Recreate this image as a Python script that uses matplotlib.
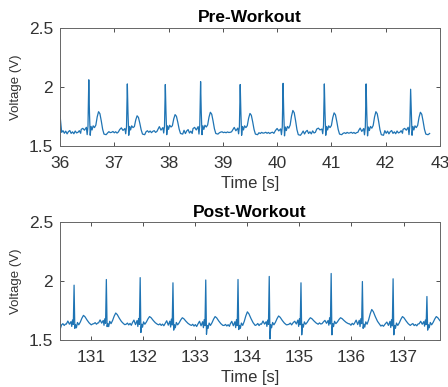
import numpy as np
import matplotlib
matplotlib.use("Agg")
from matplotlib import pyplot as plt

plt.rcParams['font.family'] = ['Liberation Sans', 'DejaVu Sans']

# ---- pre-workout (36-43 s) ----
pre_r_times = [36.53, 37.24, 37.94, 38.59, 39.32, 40.11, 40.87, 41.64, 42.46]
pre_r_peaks = [2.06, 2.025, 2.02, 2.045, 2.02, 2.03, 2.025, 2.025, 1.98]
pre_t_peaks = [1.79, 1.755, 1.765, 1.785, 1.775, 1.80, 1.78, 1.79, 1.785]
pre_base = [1.615, 1.615, 1.62, 1.62, 1.615, 1.61, 1.615, 1.61, 1.615]
pre_noise = [1.0, 0.5, 0.6, 1.2, 0.3, 0.4, 1.1, 0.4, 1.0]
pre_start = (36.0, 1.76)
pre_end = (42.81, 1.605)

# beat shape: offsets from R (s), rise above baseline (V), share of T height
pre_before_dt = [-0.14, -0.11, -0.08, -0.045, -0.03, -0.015]
pre_before_dv = [0.02, 0.04, 0.015, 0.035, -0.015, 0.05]
pre_after_dt = [0.012, 0.026, 0.042, 0.06, 0.08, 0.105, 0.13, 0.155, 0.18, 0.205, 0.23, 0.255, 0.28, 0.32]
pre_after_dv = [0.17, -0.025, 0.05, 0.02, 0.055, 0.04, 0.0, 0.0, 0.0, 0.0, 0.0, 0.0, -0.015, -0.02]
pre_after_tf = [0, 0, 0, 0, 0, 0, 0.35, 0.75, 1.0, 0.9, 0.55, 0.15, 0, 0]

# ---- post-workout (130.4-137.7 s) ----
post_r_times = [130.67, 131.29, 131.94, 132.57, 133.20, 133.82, 134.42, 135.03, 135.61, 136.21, 136.80, 137.45]
post_r_peaks = [1.966, 2.014, 2.03, 1.986, 2.01, 2.014, 2.04, 1.986, 2.065, 1.997, 2.02, 1.87]
post_s_dips = [1.60, 1.615, 1.565, 1.585, 1.55, 1.59, 1.51, 1.545, 1.545, 1.60, 1.545, 1.585]
post_t_peaks = [1.71, 1.73, 1.70, 1.69, 1.70, 1.74, 1.705, 1.69, 1.69, 1.76, 1.70, 1.70]
post_base = [1.63, 1.64, 1.635, 1.63, 1.625, 1.625, 1.63, 1.635, 1.64, 1.635, 1.625, 1.63]
post_noise = [0.7, 0.6, 0.7, 0.6, 0.7, 0.6, 0.8, 0.7, 0.6, 0.7, 0.6, 0.7]
post_start = (130.40, 1.59)
post_end = (137.72, 1.67)

post_before_dt = [-0.15, -0.12, -0.09, -0.06, -0.045, -0.03, -0.015]
post_before_dv = [0.01, 0.03, 0.0, 0.03, -0.015, 0.045, 0.0]
post_after_dt = [0.03, 0.045, 0.065, 0.09, 0.12, 0.15, 0.18, 0.21, 0.25, 0.29, 0.33]
post_after_dv = [0.0, -0.025, 0.02, 0.0, 0.0, 0.0, 0.0, 0.0, 0.0, 0.0, 0.0]
post_after_tf = [0, 0, 0, 0, 0.3, 0.7, 1.0, 0.85, 0.5, 0.2, 0.0]

# hand-drawn baseline wiggle
zig = [0.0, 0.014, -0.008, 0.010, -0.013, 0.006, 0.015, -0.009, 0.004, -0.012, 0.011, -0.005]


def build(start, end, r_times, r_peaks, t_peaks, base, noise,
          b_dt, b_dv, a_dt, a_dv, a_tf, s_dips=None):
    ts, vs = [start[0]], [start[1]]
    t_prev = start[0] + 0.03
    k = 0
    for i, tr in enumerate(r_times):
        # baseline stretch up to the beat
        t = t_prev
        while t < tr + b_dt[0] - 0.01:
            ts.append(t)
            vs.append(base[i] + noise[i] * zig[k % len(zig)])
            t += 0.025
            k += 1
        for dt, dv in zip(b_dt, b_dv):
            ts.append(tr + dt)
            vs.append(base[i] + dv + 0.5 * noise[i] * zig[k % len(zig)])
            k += 1
        ts.append(tr)
        vs.append(r_peaks[i])
        if s_dips is not None:
            ts.append(tr + 0.014)
            vs.append(s_dips[i])
        for dt, dv, tf in zip(a_dt, a_dv, a_tf):
            ts.append(tr + dt)
            vs.append(base[i] + dv + tf * (t_peaks[i] - base[i]))
        t_prev = tr + a_dt[-1] + 0.025
    t = t_prev
    while t < end[0]:
        ts.append(t)
        vs.append(base[-1] + noise[-1] * zig[k % len(zig)])
        t += 0.025
        k += 1
    ts.append(end[0])
    vs.append(end[1])
    return np.array(ts), np.array(vs)


pre_t, pre_v = build(pre_start, pre_end, pre_r_times, pre_r_peaks, pre_t_peaks,
                     pre_base, pre_noise, pre_before_dt, pre_before_dv,
                     pre_after_dt, pre_after_dv, pre_after_tf)
post_t, post_v = build(post_start, post_end, post_r_times, post_r_peaks, post_t_peaks,
                       post_base, post_noise, post_before_dt, post_before_dv,
                       post_after_dt, post_after_dv, post_after_tf, post_s_dips)

line_color = '#1f74b4'
text_color = '#333333'

fig = plt.figure(figsize=(4.48, 3.87), dpi=100)
ax1 = fig.add_axes([0.134, 0.623, 0.848, 0.305])
ax2 = fig.add_axes([0.134, 0.121, 0.848, 0.305])

panels = [(ax1, pre_t, pre_v, 'Pre-Workout', (36, 43), range(36, 44)),
          (ax2, post_t, post_v, 'Post-Workout', (130.40, 137.70), range(131, 138))]

for ax, t, v, title, xlim, xt in panels:
    ax.plot(t, v, color=line_color, lw=0.9)
    ax.set_xlim(*xlim)
    ax.set_ylim(1.5, 2.5)
    ax.set_xticks(list(xt))
    ax.set_yticks([1.5, 2, 2.5])
    ax.set_yticklabels(['1.5', '2', '2.5'])
    ax.tick_params(direction='in', top=True, right=True, length=3, width=0.6,
                   color=text_color, labelcolor=text_color, labelsize=12.5)
    ax.tick_params(axis='x', pad=7)
    ax.tick_params(axis='y', pad=5)
    for sp in ax.spines.values():
        sp.set_color('#666666')
        sp.set_linewidth(0.7)
    ax.set_title(title, fontsize=12.5, fontweight='bold', pad=4)
    ax.set_xlabel('Time [s]', fontsize=12, color=text_color, labelpad=4)
    ax.set_ylabel('Voltage (V)', fontsize=9.5, color=text_color, labelpad=5)

fig.savefig('out.png', dpi=100)
